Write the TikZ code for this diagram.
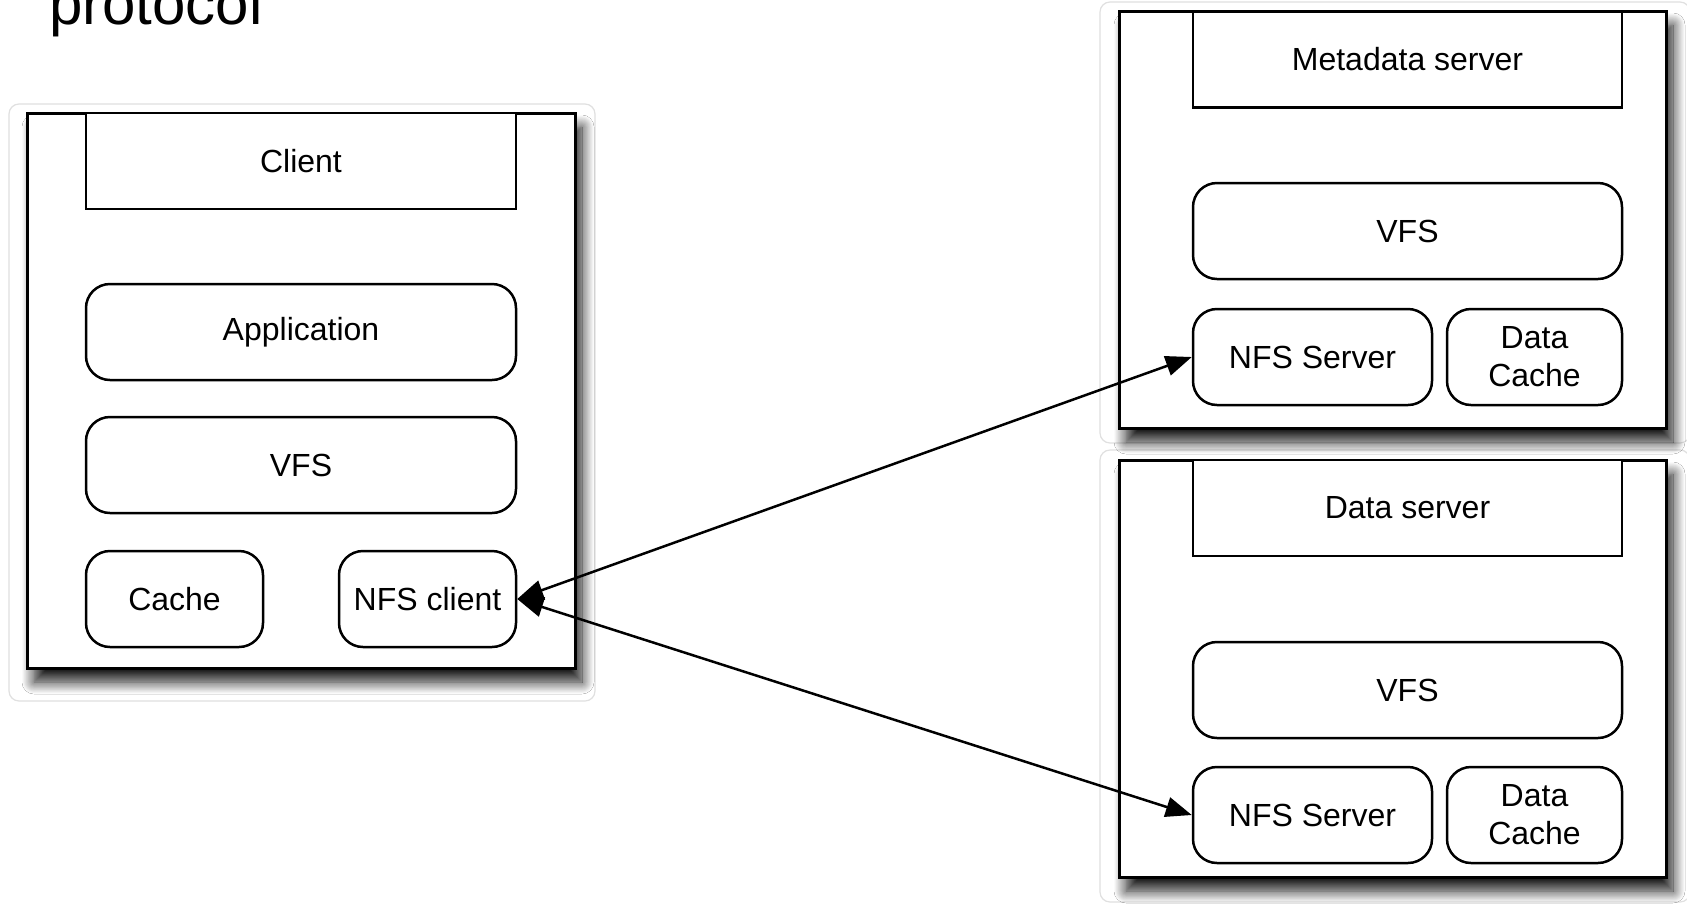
\documentclass[tikz,border=0pt]{standalone}
\usepackage{fontspec}
\setmainfont{Liberation Sans}
\usetikzlibrary{arrows.meta,shadows.blur}
\tikzset{
  halo/.style={draw=black!12, line width=1.2pt, rounded corners=10pt},
  outerbox/.style={draw=black, fill=white, line width=3pt, inner sep=0pt,
    blur shadow={shadow xshift=7pt, shadow yshift=-14pt, shadow blur radius=12pt, shadow blur steps=14, shadow opacity=90}},
  header/.style={draw=black, fill=white, line width=2.5pt, inner sep=0pt,
    minimum height=96pt, font=\fontsize{32}{38}\selectfont},
  layer/.style={draw=black, fill=white, line width=2.5pt, inner sep=0pt,
    rounded corners=24pt, minimum height=96pt, align=center,
    font=\fontsize{32}{38}\selectfont},
  link/.style={line width=2.5pt, {Triangle[length=26pt,width=20pt]}-{Triangle[length=26pt,width=20pt]}},
}
\begin{document}
\begin{tikzpicture}[x=1pt,y=-1pt]
\fill[white] (0,0) rectangle (1687,906);
\useasboundingbox (0,0) rectangle (1687,906);
\node[anchor=base west, inner sep=0pt, font=\fontsize{60}{70}\selectfont] (title) at (49,24) {protocol};
% halos
\draw[halo] (9,104) rectangle (595,701);
\draw[halo] (1100,2) rectangle (1690,443);
\draw[halo] (1100,450) rectangle (1690,902);
% client
\node[outerbox, minimum width=548pt, minimum height=555pt] (client) at (301,390.5) {};
\node[header, minimum width=430pt] (clienthead) at (301,161) {Client};
\node[layer, minimum width=430pt] (app) at (301,332) {Application};
\node[layer, minimum width=430pt] (cvfs) at (301,465) {VFS};
\node[layer, minimum width=177pt] (cache) at (174.5,599) {Cache};
\node[layer, minimum width=177pt] (nfsc) at (427.5,599) {NFS client};
% metadata server
\node[outerbox, minimum width=547pt, minimum height=417pt] (meta) at (1392.5,219.5) {};
\node[header, minimum width=429pt] (metahead) at (1407.5,59.5) {Metadata server};
\node[layer, minimum width=429pt] (mvfs) at (1407.5,231) {VFS};
\node[layer, minimum width=239pt] (mnfs) at (1312.5,357) {NFS Server};
\node[layer, minimum width=175pt] (mcache) at (1534.5,357) {Data\\Cache};
% data server
\node[outerbox, minimum width=547pt, minimum height=417pt] (data) at (1392.5,668.5) {};
\node[header, minimum width=429pt] (datahead) at (1407.5,508) {Data server};
\node[layer, minimum width=429pt] (dvfs) at (1407.5,690) {VFS};
\node[layer, minimum width=239pt] (dnfs) at (1312.5,815) {NFS Server};
\node[layer, minimum width=175pt] (dcache) at (1534.5,815) {Data\\Cache};
% connectors
\draw[link] (nfsc.east) -- (mnfs.west);
\draw[link] (nfsc.east) -- (dnfs.west);
\end{tikzpicture}
\end{document}
